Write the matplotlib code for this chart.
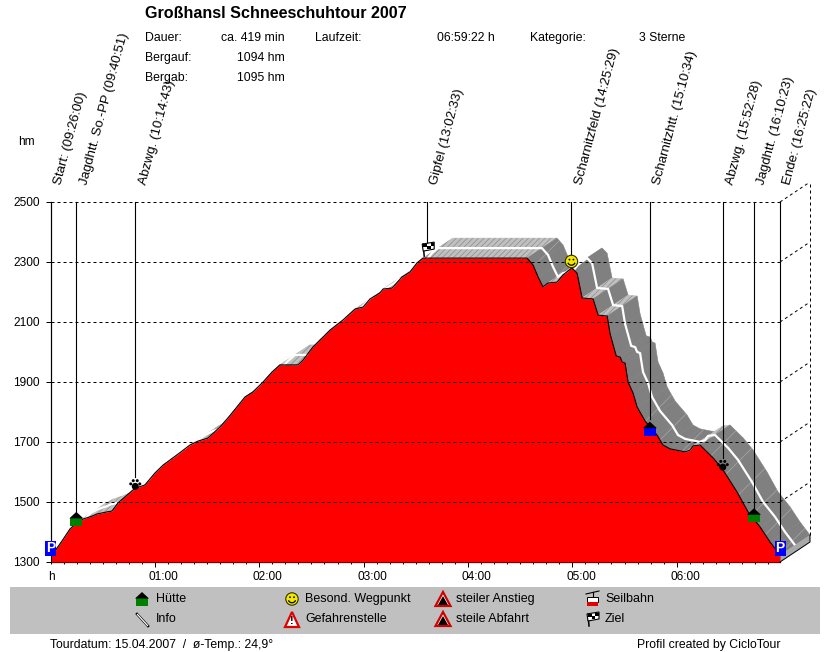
import numpy as np
from matplotlib import pyplot as plt
from matplotlib.patches import Circle, Polygon, Rectangle, Arc
from matplotlib.ticker import MultipleLocator

plt.rcParams['font.family'] = ['Liberation Sans', 'DejaVu Sans']
plt.rcParams['font.size'] = 8.6
plt.rcParams['hatch.linewidth'] = 0.5

# Profil: Minuten seit Start, Hoehe in hm
minutes = [0, 2.6, 6.6, 11.2, 14.7, 18.7, 23.9, 26.7, 32.5, 35.4, 38.8, 42.8, 47.4, 50.9, 54.3,
           57.2, 60.1, 64.7, 72.7, 80.2, 84.8, 90.5, 97.4, 102, 107.2, 111.8, 116.4, 122.2, 127.3,
           131.9, 137.7, 142.3, 145.2, 150.9, 160.7, 168.2, 175, 179.7, 183.7, 189.4, 191.2, 196.3,
           202.1, 206.7, 210.7, 214.1, 273.9, 277.4, 280.3, 283.1, 286, 291.2, 294.6, 299.8, 302.7,
           305.6, 311.9, 314.8, 320, 321.7, 325.2, 327.5, 328.6, 330.3, 332, 334.9, 337.2, 341.8,
           348.7, 352.1, 356.2, 364.8, 367.7, 369.4, 373.4, 380.9, 386.6, 394.7, 401, 407.9, 413.6,
           419.37]
height = [1323, 1337, 1370, 1410, 1430, 1443, 1453, 1460, 1467, 1470, 1497, 1517, 1540, 1550, 1557,
          1577, 1597, 1623, 1657, 1690, 1703, 1713, 1750, 1780, 1817, 1850, 1867, 1900, 1933,
          1957, 1957, 1957, 1973, 2017, 2073, 2107, 2143, 2150, 2177, 2197, 2210, 2213,
          2250, 2267, 2297, 2313, 2313, 2290, 2250, 2217, 2230, 2233, 2257, 2280, 2263,
          2180, 2177, 2123, 2120, 2060, 1987, 1983, 1967, 1963, 1900, 1863, 1817, 1770,
          1723, 1690, 1677, 1667, 1673, 1687, 1690, 1647, 1607, 1533, 1467, 1417, 1367,
          1323]

# Wegpunkte
way_names = ['Start: (09:26:00)', 'Jagdhtt. So.-PP (09:40:51)', 'Abzwg. (10:14:43)', 'Gipfel (13:02:33)',
             'Scharnitzfeld (14:25:29)', 'Scharnitzhtt. (15:10:34)', 'Abzwg. (15:52:28)',
             'Jagdhtt. (16:10:23)', 'Ende: (16:25:22)']
way_min = [0, 14.85, 48.72, 216.55, 299.48, 344.57, 386.47, 404.38, 419.37]
way_icon = ['P', 'house_g', 'paw', 'flag', 'smile', 'house_b', 'paw', 'house_g', 'P']

y_ticks = [1300, 1500, 1700, 1900, 2100, 2300, 2500]
hour_ticks = [60, 120, 180, 240, 300, 360]
hour_labels = ['01:00', '02:00', '03:00', '04:00', '05:00', '06:00']

# 3D Versatz des Bandes (30 px nach rechts, 20 px nach oben)
dx = 17.25
dy = 66.67

TXT = 8.85

fig = plt.figure(figsize=(8.3, 6.52), dpi=100)
ax = fig.add_axes([50.5 / 830, 1 - 562 / 652, 729.5 / 830, 360 / 652])
ax.set_xlim(0, 419.37)
ax.set_ylim(1300, 2500)
ax.patch.set_visible(False)

# Band hinter dem Profil
for i in range(len(minutes) - 1):
    t0, t1 = minutes[i], minutes[i + 1]
    h0, h1 = height[i], height[i + 1]
    xs = [t0, t1, t1 + dx, t0 + dx]
    ys = [h0, h1, h1 + dy, h0 + dy]
    slope = (h1 - h0) / (t1 - t0)
    if slope > -1:
        face, hatch_col, hatch = '#c0c0c0', '#8c8c8c', '//////'
    elif slope > -12:
        face, hatch_col, hatch = '#808080', '#a8a8a8', '/'
    else:
        face, hatch_col, hatch = '#808080', None, None
    ax.fill(xs, ys, facecolor=face, edgecolor=face, linewidth=0.4, clip_on=False, zorder=1)
    if hatch:
        ax.fill(xs, ys, facecolor='none', edgecolor=hatch_col, hatch=hatch, linewidth=0,
                clip_on=False, zorder=1.1)

# weisse Mittellinie
ax.plot(np.array(minutes) + dx / 2, np.array(height) + dy / 2, color='white', lw=1.6,
        clip_on=False, zorder=2, solid_joinstyle='round')

# Stirnseite am Ende
ax.fill([419.37, 419.37 + dx, 419.37 + dx, 419.37], [1300, 1300 + dy, height[-1] + dy, height[-1]],
        facecolor='#a8a8a8', edgecolor='none', clip_on=False, zorder=2)

# Profilflaeche
ax.fill_between(minutes, height, 1300, color='#ff0000', linewidth=0, zorder=3)
ax.plot(minutes, height, color='black', lw=0.8, zorder=4, clip_on=False)

# Gitter mit Tiefe
dash = (0, (3, 3))
for h in y_ticks[1:]:
    ax.plot([0, 419.37], [h, h], color='black', lw=0.72, ls=dash, zorder=5)
    ax.plot([419.37, 419.37 + dx], [h, h + dy], color='black', lw=0.72, ls=dash, clip_on=False, zorder=5)
ax.plot([419.37 + dx, 419.37 + dx], [height[-1] + dy, 2500 + dy], color='black', lw=0.72, ls=dash,
        clip_on=False, zorder=5)
ax.plot([419.37, 419.37 + dx, 419.37 + dx], [1300, 1300 + dy, height[-1] + dy], color='black', lw=0.72,
        clip_on=False, zorder=5)

# Achsen
for side in ['top', 'right']:
    ax.spines[side].set_visible(False)
ax.spines['bottom'].set_linewidth(0.9)
ax.spines['left'].set_linewidth(0.8)
ax.spines['left'].set_zorder(6)
ax.set_yticks(y_ticks)
ax.set_xticks(hour_ticks)
ax.set_xticklabels([])
ax.xaxis.set_minor_locator(MultipleLocator(7.5))
ax.tick_params(axis='y', length=3.6, width=0.72, pad=4.2, labelsize=8.6)
ax.tick_params(axis='x', which='major', length=3.6, width=0.72)
ax.tick_params(axis='x', which='minor', length=1.5, width=0.72)
for t, lab in zip(hour_ticks, hour_labels):
    ax.annotate(lab, (t, 1300), xytext=(6.2, -11), textcoords='offset points', ha='center', va='center')
ax.annotate('h', (0, 1300), xytext=(1, -11), textcoords='offset points', ha='center', va='center')

# Ueberlagerung in Pixeln fuer Symbole, Kopf und Legende
ov = fig.add_axes([0, 0, 1, 1])
ov.set_xlim(0, 830)
ov.set_ylim(652, 0)
ov.axis('off')
ov.patch.set_visible(False)


def to_px(t, h):
    x, y = ax.transData.transform((t, h))
    return x, 652 - y


def house(cx, base, col):
    ov.add_patch(Rectangle((cx - 6, base - 8), 12, 8, color=col, lw=0, zorder=8))
    ov.add_patch(Polygon([(cx - 7, base - 7.5), (cx, base - 14), (cx + 7, base - 7.5)], color='black', lw=0, zorder=8))


def park(cx, cy):
    ov.add_patch(Rectangle((cx - 5.5, cy - 7.5), 11, 15, color='#0000ff', lw=0, zorder=8))
    ov.text(cx, cy - 0.5, 'P', color='white', fontsize=10, fontweight='bold', ha='center', va='center', zorder=9)


def paw(cx, cy):
    ov.add_patch(Circle((cx, cy + 1.5), 3.5, color='black', lw=0, zorder=8))
    for ox, oy in [(-4.5, -1), (-2, -4.2), (2, -4.2), (4.5, -1)]:
        ov.add_patch(Circle((cx + ox, cy + oy), 1.5, color='black', lw=0, zorder=8))


def flag(cx, cy):
    ov.plot([cx - 4, cx - 3], [cy - 4, cy + 8], color='black', lw=1.1, zorder=8)
    ov.add_patch(Polygon([(cx - 5, cy - 4), (cx + 7, cy - 6), (cx + 7, cy + 1), (cx - 4, cy + 3)],
                         facecolor='white', edgecolor='black', lw=0.8, zorder=8))
    for i in range(3):
        for j in range(2):
            if (i + j) % 2 == 0:
                ov.add_patch(Rectangle((cx - 4 + i * 3.7, cy - 4.5 + j * 3.2 - i * 0.5), 3.7, 3.2,
                                       color='black', lw=0, zorder=9))


def smile(cx, cy):
    ov.add_patch(Circle((cx, cy), 6.2, facecolor='#f4e800', edgecolor='#303000', lw=0.8, zorder=8))
    ov.add_patch(Circle((cx - 2, cy - 1.8), 0.9, color='black', lw=0, zorder=9))
    ov.add_patch(Circle((cx + 2, cy - 1.8), 0.9, color='black', lw=0, zorder=9))
    ov.add_patch(Arc((cx, cy), 7.5, 7.5, theta1=20, theta2=160, color='black', lw=0.9, zorder=9))


for t, icon in zip(way_min, way_icon):
    top = to_px(t, 2500)
    h_here = np.interp(t, minutes, height)
    x, y = to_px(t, h_here)
    if icon in ('P', 'house_g', 'house_b'):
        end_y = y - 8
    else:
        end_y = y - 12
    ov.plot([top[0], top[0]], [top[1], end_y], color='black', lw=0.8, zorder=7)
    if icon == 'P':
        park(x, 548.5)
    elif icon == 'house_g':
        house(x, y + 3, '#008000')
    elif icon == 'house_b':
        house(x, y + 9, '#0000ff')
    elif icon == 'paw':
        paw(x, y - 4)
    elif icon == 'flag':
        flag(x, y - 10)
    else:
        smile(x, y - 7)

for name, t in zip(way_names, way_min):
    x, _ = to_px(t, 2500)
    ov.text(x + 7.5, 184, name, rotation=75, rotation_mode='anchor', ha='left', va='center', fontsize=9.5, zorder=10)

# Kopf
ov.text(145, 13, 'Großhansl Schneeschuhtour 2007', fontsize=11.6, fontweight='bold', ha='left', va='center')
ov.text(145, 38, 'Dauer:', va='center', fontsize=TXT)
ov.text(285, 38, 'ca. 419 min', va='center', ha='right', fontsize=TXT)
ov.text(315, 38, 'Laufzeit:', va='center', fontsize=TXT)
ov.text(495, 38, '06:59:22 h', va='center', ha='right', fontsize=TXT)
ov.text(530, 38, 'Kategorie:', va='center', fontsize=TXT)
ov.text(639, 38, '3 Sterne', va='center', fontsize=TXT)
ov.text(145, 58, 'Bergauf:', va='center', fontsize=TXT)
ov.text(285, 58, '1094 hm', va='center', ha='right', fontsize=TXT)
ov.text(145, 78, 'Bergab:', va='center', fontsize=TXT)
ov.text(285, 78, '1095 hm', va='center', ha='right', fontsize=TXT)
ov.text(18, 142, 'hm', va='center', fontsize=8.6)

# Legende
ov.add_patch(Rectangle((10, 587), 810, 47, color='#c0c0c0', lw=0, zorder=1))
leg_items = [(156, 599, 'Hütte'), (156, 619, 'Info'), (305, 599, 'Besond. Wegpunkt'), (305, 619, 'Gefahrenstelle'),
             (456, 599, 'steiler Anstieg'), (456, 619, 'steile Abfahrt'), (605, 599, 'Seilbahn'), (605, 619, 'Ziel')]
for lx, ly, lab in leg_items:
    ov.text(lx, ly, lab, va='center', fontsize=9, zorder=3)

house(142, 606, '#008000')
# Info Nadel
ov.plot([137, 148], [614, 626], color='black', lw=1.8, zorder=3)
ov.plot([137.5, 147.5], [614.5, 625.5], color='white', lw=0.9, zorder=4)
smile(292, 599)
# Gefahrenstelle
ov.add_patch(Polygon([(292, 612), (285, 627), (299, 627)], facecolor='white', edgecolor='#e00000', lw=1.6, zorder=3))
ov.text(292, 621.5, '!', fontsize=8, fontweight='bold', ha='center', va='center', zorder=4)
# steiler Anstieg / steile Abfahrt
for cy, pts in [(599, [(443, 596), (438, 605), (448, 605)]), (619, [(443, 616), (438, 625), (448, 625)])]:
    ov.add_patch(Polygon([(443, cy - 7), (435.5, cy + 7), (450.5, cy + 7)], facecolor='white', edgecolor='#d00000',
                         lw=1.6, zorder=3))
    ov.add_patch(Polygon(pts, color='black', lw=0, zorder=4))
# Seilbahn
ov.plot([586, 599], [594, 591], color='black', lw=0.8, zorder=3)
ov.plot([592.5, 592.5], [592, 597], color='black', lw=0.8, zorder=3)
ov.add_patch(Rectangle((587, 597), 11, 5, facecolor='white', edgecolor='black', lw=0.7, zorder=3))
ov.add_patch(Rectangle((587, 602), 11, 4, color='#e00000', lw=0, zorder=3))
flag(592, 618)

# Fusszeile
ov.text(50, 645, 'Tourdatum: 15.04.2007  /  ø-Temp.: 24,9°', va='center', fontsize=TXT)
ov.text(780, 645, 'Profil created by CicloTour', va='center', ha='right', fontsize=TXT)

fig.savefig('out.png', dpi=100)
